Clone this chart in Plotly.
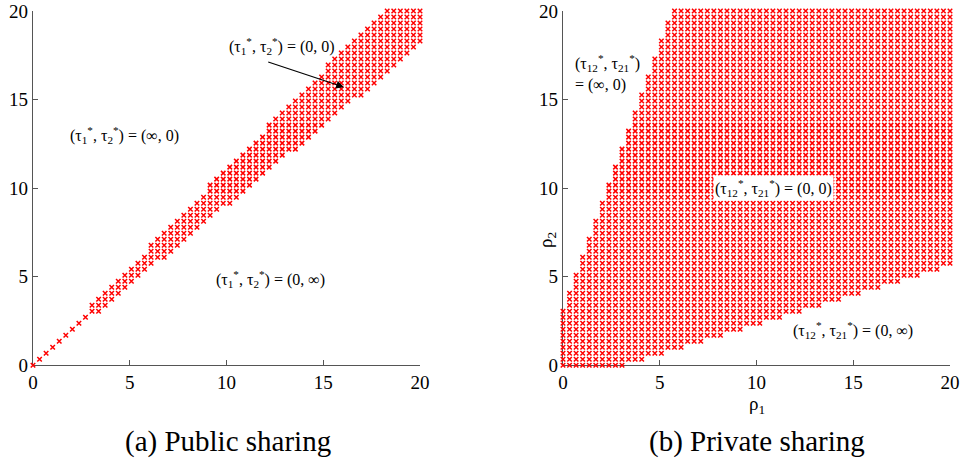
import numpy as np
import plotly.graph_objects as go

rho_grid = np.linspace(0, 20, 60)

# (a) Public sharing: for each rho1 column, lowest / highest rho2 row index marked (0,0)
pub_col_bottom = [0, 1, 2, 3, 4, 5, 6, 7, 8, 9,
                  9, 10, 11, 12, 13, 14, 15, 16, 17, 18,
                  18, 19, 20, 21, 22, 23, 24, 25, 26, 27,
                  27, 28, 29, 30, 31, 32, 33, 34, 35, 36,
                  36, 37, 38, 39, 40, 41, 42, 43, 44, 45,
                  45, 46, 47, 48, 49, 50, 51, 52, 53, 54]
pub_col_top = [0, 1, 2, 3, 4, 5, 6, 7, 8, 10,
               11, 12, 13, 14, 15, 16, 17, 18, 20, 21,
               22, 23, 24, 25, 26, 27, 28, 30, 31, 32,
               33, 34, 35, 36, 37, 38, 40, 41, 42, 43,
               44, 45, 46, 47, 48, 50, 51, 52, 53, 54,
               55, 56, 57, 58, 59, 59, 59, 59, 59, 59]

# (b) Private sharing
priv_col_bottom = ([0] * 10 + [1] * 3 + [2] * 3 + [3] * 3 + [4] * 3 + [5] * 3 + [6] * 3 +
                   [7] * 3 + [8] * 3 + [9] * 3 + [10] * 3 + [11] * 3 + [12] * 3 + [13] * 3 +
                   [14] * 3 + [15] * 3 + [16] * 3 + [17] * 2)
priv_col_top = [9, 12, 15, 18, 21, 24, 27, 30, 33, 36, 39, 42, 45, 48, 51, 54, 57] + [59] * 43


def points(bottom, top):
    xs, ys = [], []
    for i, (b, t) in enumerate(zip(bottom, top)):
        for r in range(b, t + 1):
            xs.append(rho_grid[i])
            ys.append(rho_grid[r])
    return xs, ys


px, py = points(pub_col_bottom, pub_col_top)
qx, qy = points(priv_col_bottom, priv_col_top)

FONT = "Liberation Serif"
marker = dict(symbol="x-thin", size=4.5, line=dict(width=1.5, color="red"), color="red")

fig = go.Figure()
fig.add_trace(go.Scatter(x=px, y=py, mode="markers", marker=marker, xaxis="x", yaxis="y",
                         cliponaxis=False, showlegend=False, hoverinfo="skip"))
fig.add_trace(go.Scatter(x=qx, y=qy, mode="markers", marker=marker, xaxis="x2", yaxis="y2",
                         cliponaxis=False, showlegend=False, hoverinfo="skip"))

ax_common = dict(range=[0, 20], showline=True, linecolor="#555", linewidth=1.3,
                 ticks="inside", ticklen=5, tickcolor="#555", tickwidth=1,
                 tickvals=[0, 5, 10, 15, 20], showgrid=False, zeroline=False,
                 automargin=False, layer="below traces",
                 tickfont=dict(family=FONT, size=19, color="black"))

ydom = [1 - 365.3 / 466, 1 - 11 / 466]
fig.update_layout(
    width=960, height=466,
    margin=dict(l=0, r=0, t=0, b=0, autoexpand=False),
    paper_bgcolor="white", plot_bgcolor="white",
    xaxis=dict(domain=[33 / 960, 420 / 960], anchor="y", **ax_common),
    yaxis=dict(domain=ydom, anchor="x", **ax_common),
    xaxis2=dict(domain=[563 / 960, 950 / 960], anchor="y2", **ax_common),
    yaxis2=dict(domain=ydom, anchor="x2", **ax_common),
)

tf = dict(family=FONT, size=16, color="black")
C = dict(xanchor="center", yanchor="middle")
ann = [
    dict(x=4.75, y=13.0, xref="x", yref="y", showarrow=False, font=tf, **C,
         text="(τ<sub>1</sub><sup>*</sup>, τ<sub>2</sub><sup>*</sup>) = (∞, 0)"),
    dict(x=12.25, y=4.9, xref="x", yref="y", showarrow=False, font=tf, **C,
         text="(τ<sub>1</sub><sup>*</sup>, τ<sub>2</sub><sup>*</sup>) = (0, ∞)"),
    dict(x=12.87, y=18.0, xref="x", yref="y", showarrow=False, font=tf, **C,
         text="(τ<sub>1</sub><sup>*</sup>, τ<sub>2</sub><sup>*</sup>) = (0, 0)"),
    dict(x=16.07, y=15.7, xref="x", yref="y", ax=12.08, ay=17.15, axref="x", ayref="y",
         showarrow=True, arrowhead=2, arrowsize=1.3, arrowwidth=1.2, arrowcolor="black", text=""),
    dict(x=0.5, y=16.5, xref="x2", yref="y2", showarrow=False, font=tf, align="left",
         xanchor="left", yanchor="middle",
         text="(τ<sub>12</sub><sup>*</sup>, τ<sub>21</sub><sup>*</sup>)<br>= (∞, 0)"),
    dict(x=10.9, y=10.0, xref="x2", yref="y2", showarrow=False, font=tf, bgcolor="white", **C,
         borderpad=1,
         text="(τ<sub>12</sub><sup>*</sup>, τ<sub>21</sub><sup>*</sup>) = (0, 0)"),
    dict(x=15.0, y=2.0, xref="x2", yref="y2", showarrow=False, font=tf, **C,
         text="(τ<sub>12</sub><sup>*</sup>, τ<sub>21</sub><sup>*</sup>) = (0, ∞)"),
    dict(x=757 / 960, y=1 - 405 / 466, xref="paper", yref="paper", showarrow=False, **C,
         font=dict(family=FONT, size=19, color="black"), text="ρ<sub>1</sub>"),
    dict(x=547 / 960, y=1 - 240 / 466, xref="paper", yref="paper", showarrow=False, textangle=-90,
         **C, font=dict(family=FONT, size=19, color="black"), text="ρ<sub>2</sub>"),
    dict(x=228 / 960, y=1 - 441 / 466, xref="paper", yref="paper", showarrow=False, **C,
         font=dict(family=FONT, size=29, color="black"), text="(a) Public sharing"),
    dict(x=757 / 960, y=1 - 441 / 466, xref="paper", yref="paper", showarrow=False, **C,
         font=dict(family=FONT, size=29, color="black"), text="(b) Private sharing"),
]
fig.update_layout(annotations=ann)

fig.write_html("out.html", config={"displayModeBar": False},
               post_script="document.body.style.margin='0';")
